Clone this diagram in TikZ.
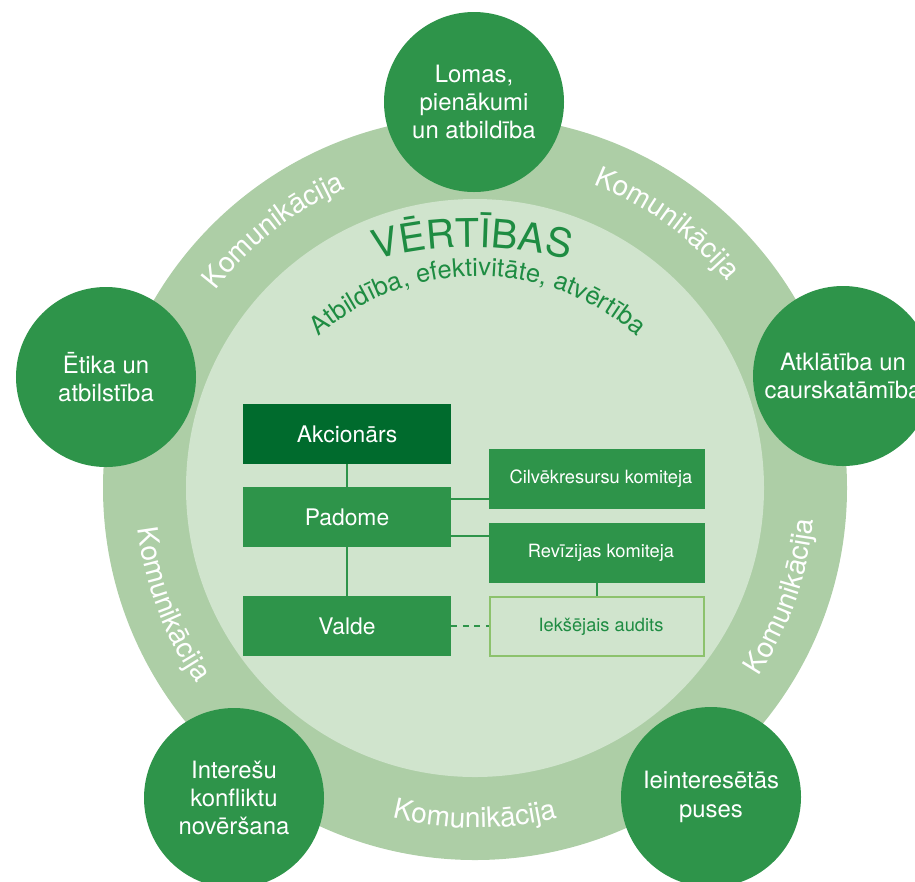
\documentclass[tikz,border=0pt]{standalone}
\usepackage{fontspec}
\setmainfont{TeX Gyre Heros}
\usepackage{xcolor}
\usepackage{tikz}
\usetikzlibrary{calc,decorations.text,positioning}

\definecolor{circgreen}{HTML}{2E944A}
\definecolor{darkgreen}{HTML}{006B2D}
\definecolor{ringgreen}{HTML}{ADCEA6}
\definecolor{innergreen}{HTML}{D0E4CD}
\definecolor{auditgreen}{HTML}{8CC26C}
\definecolor{txtgreen}{HTML}{1E8C42}
\newcommand\komfont{\color{white}\fontsize{16}{19}\selectfont}

\begin{document}
\begin{tikzpicture}[x=0.2mm,y=0.2mm]
\tikzset{topic/.style = {shape=circle,fill=circgreen,text=white,align=center,
  minimum size=36mm,inner sep=0pt,font=\fontsize{13.6}{16.1}\selectfont}}
\tikzset{box/.style = {shape=rectangle,fill=circgreen,text=white,inner sep=0pt,
  minimum width=41.6mm,minimum height=12mm,font=\fontsize{13}{15}\selectfont}}
\tikzset{smallbox/.style = {box,minimum width=43.2mm,font=\fontsize{10.4}{12}\selectfont,
  execute at begin node=\hspace*{1.6mm}}}
\tikzset{link/.style = {draw=circgreen,line width=0.4mm}}
\useasboundingbox (0,-881) rectangle (915,0);
\clip (0,-881) rectangle (915,0);
\coordinate (c) at (475,-488);
% ring and inner disc
\fill[ringgreen] (c) circle[radius=372];
\fill[innergreen] (c) circle[radius=289];
% topics round the ring
\node[topic] (roles) at (474,-102) {Lomas,\\pienākumi\\un atbildība};
\node[topic] (ethics) at (106,-377) {Ētika un\\atbilstība};
\node[topic] (open) at (843,-376) {Atklātība un\\caurskatāmība};
\node[topic] (conflict) at (234,-798) {Interešu\\konfliktu\\novēršana};
\node[topic] (parties) at (711,-797) {Ieinteresētās\\puses};
% ring labels
\foreach \a in {128,54}
  \path[decorate,decoration={text along path,text align=center,
    text={|\komfont|Komunikācija}}]
    ($(c)+({\a+25}:326)$) arc[start angle=\a+25,end angle=\a-25,radius=326];
\foreach \a in {-19.5,201,270}
  \path[decorate,decoration={text along path,text align=center,
    text={|\komfont|Komunikācija}}]
    ($(c)+({\a-25}:340)$) arc[start angle=\a-25,end angle=\a+25,radius=340];
% values
\path[decorate,decoration={text along path,text align=center,
  text={|\color{txtgreen}\fontsize{22.5}{27}\selectfont|VĒRTĪBAS}}]
  ($(472,-617)+(112:370)$) arc[start angle=112,end angle=68,radius=370];
\path[decorate,decoration={text along path,text align=center,
  text={|\color{txtgreen}\fontsize{14.5}{17}\selectfont|Atbildība, efektivitāte, atvērtība}}]
  ($(478,-516)+(150:240)$) arc[start angle=150,end angle=30,radius=240];
% governance chart
\node[box,fill=darkgreen] (owner) at (347,-434) {Akcionārs};
\node[box] (board) at (347,-517) {Padome};
\node[box] (mgmt) at (347,-626) {Valde};
\node[smallbox] (hrcom) at (597,-479) {Cilvēkresursu komiteja};
\node[smallbox] (audcom) at (597,-553) {Revīzijas komiteja};
\node[smallbox,fill=innergreen,draw=auditgreen,line width=0.4mm,text=txtgreen,
  minimum width=42.8mm,minimum height=11.8mm] (audit) at (597,-626.5) {Iekšējais audits};
\draw[link] (owner) -- (board);
\draw[link] (board) -- (mgmt);
\draw[link] ([yshift=3.6mm]board.east) -- ([yshift=3.6mm]board.east -| hrcom.west);
\draw[link] ([yshift=-3.8mm]board.east) -- ([yshift=-3.8mm]board.east -| audcom.west);
\draw[link] (audcom) -- (audit);
\draw[link,dash pattern=on 1.2mm off 1.1mm] (mgmt.east) -- (mgmt.east -| audit.west);
\end{tikzpicture}
\end{document}
